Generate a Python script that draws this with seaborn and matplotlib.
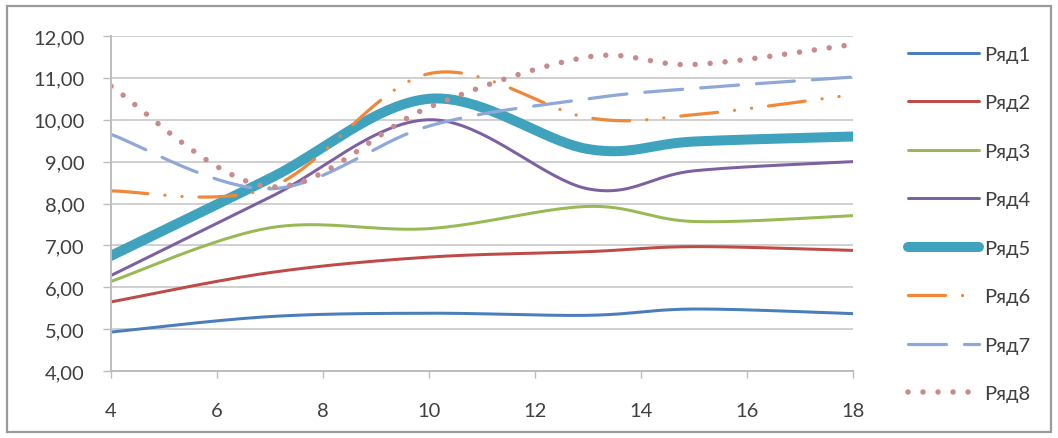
import numpy as np
import matplotlib
matplotlib.use("Agg")
import matplotlib.pyplot as plt
from matplotlib.patches import Rectangle
from matplotlib.ticker import FuncFormatter, MultipleLocator
import seaborn as sns

# ---- data ----
x_vals = [4, 7, 10, 13, 15, 18]
series_names = ["Ряд1", "Ряд2", "Ряд3", "Ряд4", "Ряд5", "Ряд6", "Ряд7", "Ряд8"]
s1 = [4.93, 5.30, 5.38, 5.33, 5.48, 5.37]
s2 = [5.65, 6.35, 6.72, 6.85, 6.97, 6.88]
s3 = [6.14, 7.42, 7.40, 7.93, 7.57, 7.71]
s4 = [6.28, 8.15, 10.00, 8.35, 8.78, 9.00]
s5 = [6.75, 8.60, 10.50, 9.30, 9.48, 9.60]
s6 = [8.30, 8.38, 11.10, 10.05, 10.12, 10.60]
s7 = [9.65, 8.35, 9.85, 10.50, 10.75, 11.02]
s8 = [10.80, 8.40, 10.30, 11.50, 11.32, 11.80]
series_values = [s1, s2, s3, s4, s5, s6, s7, s8]


def smooth_curve(xs, ys, steps=40):
    """Cubic Bezier smoothing through every point (Catmull-Rom style control points)."""
    p = np.column_stack([np.asarray(xs, float), np.asarray(ys, float)])
    padded = np.vstack([p[0], p, p[-1]])
    t = np.linspace(0, 1, steps)[:, None]
    out = []
    for i in range(len(p) - 1):
        p0, p1, p2, p3 = padded[i], padded[i + 1], padded[i + 2], padded[i + 3]
        c1 = p1 + (p2 - p0) / 6.0
        c2 = p2 - (p3 - p1) / 6.0
        seg = ((1 - t) ** 3) * p1 + 3 * ((1 - t) ** 2) * t * c1 + 3 * (1 - t) * t ** 2 * c2 + t ** 3 * p2
        out.append(seg if i == 0 else seg[1:])
    pts = np.vstack(out)
    return pts[:, 0], pts[:, 1]


sns.set_theme(style="white")
plt.rcParams["font.family"] = ["Lato", "DejaVu Sans"]
plt.rcParams["lines.scale_dashes"] = False

W, H = 1058, 439
fig = plt.figure(figsize=(W / 100, H / 100), dpi=100)
fig.patch.set_facecolor("white")

left_px, right_px, top_px, bottom_px = 111, 853, 37, 372
ax = fig.add_axes([left_px / W, 1 - bottom_px / H, (right_px - left_px) / W, (bottom_px - top_px) / H])

px = 0.72  # points per pixel at 100 dpi
styles = [
    dict(color="#4A7EBB", lw=3.0 * px),
    dict(color="#BE4B48", lw=3.0 * px),
    dict(color="#98B954", lw=3.0 * px),
    dict(color="#7D60A0", lw=3.0 * px),
    dict(color="#3FA3BE", lw=10.0 * px),
    dict(color="#F0883A", lw=3.2 * px, dashes=(37 * px, 17 * px, 0.1, 17 * px, 0.1, 17 * px)),
    dict(color="#8FA8D8", lw=3.2 * px, dashes=(38 * px, 18 * px)),
    dict(color="#C98A8C", lw=5.5 * px, dashes=(0.01, 15 * px)),
]

for name, vals, st in zip(series_names, series_values, styles):
    cx, cy = smooth_curve(x_vals, vals)
    sns.lineplot(x=cx, y=cy, sort=False, estimator=None, ax=ax,
                 color=st["color"], linewidth=st["lw"], label=name, legend=False)
    line = ax.lines[-1]
    line.set_solid_capstyle("round")
    line.set_solid_joinstyle("round")
    if "dashes" in st:
        line.set_dashes(st["dashes"])
        line.set_dash_capstyle("round")

ax.set_xlim(4, 18)
ax.set_ylim(4, 12)
ax.xaxis.set_major_locator(MultipleLocator(2))
ax.yaxis.set_major_locator(MultipleLocator(1))
ax.yaxis.set_major_formatter(FuncFormatter(lambda v, _: f"{v:.2f}".replace(".", ",")))

grid_c = "#D0D0D0"
ax.grid(axis="y", color=grid_c, linewidth=1.4)
ax.grid(axis="x", visible=False)
ax.set_axisbelow(True)
for side in ("top", "right"):
    ax.spines[side].set_visible(False)
for side in ("left", "bottom"):
    ax.spines[side].set_color("#BDBDBD")
    ax.spines[side].set_linewidth(1.4)

ax.tick_params(axis="y", direction="out", length=8 * px, width=1.0, color="#BDBDBD",
               labelsize=14.5, labelcolor="#404040", pad=13, left=True)
ax.tick_params(axis="x", direction="out", length=7 * px, width=1.0, color="#BDBDBD",
               labelsize=14.5, labelcolor="#404040", pad=17, bottom=True)
ax.set_xlabel("")
ax.set_ylabel("")

handles = ax.lines[:8]
fig.legend(handles, series_names, loc="center left",
           bbox_to_anchor=(908 / W, 1 - 225 / H), bbox_transform=fig.transFigure,
           frameon=False, fontsize=14.5, handlelength=3.55, handletextpad=0.25,
           labelspacing=1.56, borderpad=0, borderaxespad=0, labelcolor="#404040")

# chart frame
fig.patches.append(Rectangle((7 / W, 1 - 433 / H), (1051 - 7) / W, (433 - 7) / H,
                             transform=fig.transFigure, fill=False,
                             edgecolor="#9A9A9A", linewidth=1.6))

fig.savefig("out.png", dpi=100, facecolor="white")
